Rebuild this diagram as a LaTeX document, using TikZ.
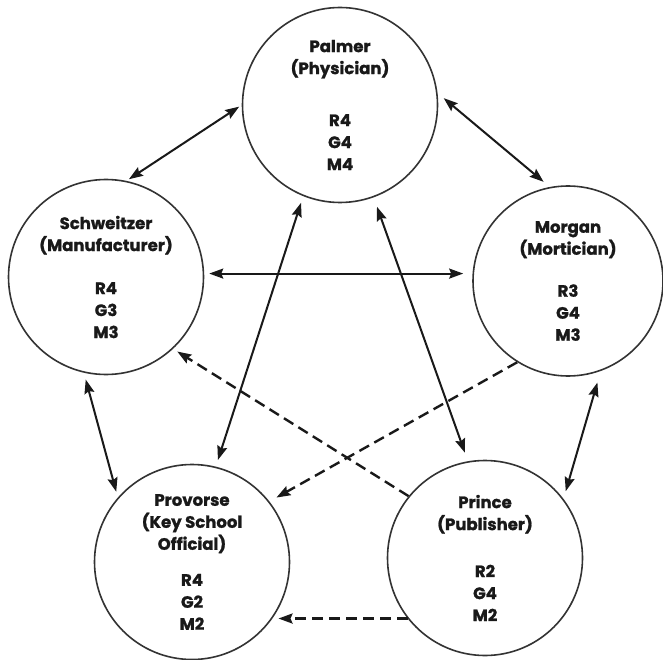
\documentclass[tikz,border=0pt]{standalone}
\usepackage{fontspec}
\setmainfont{Poppins}[BoldFeatures={FakeBold=1.2}]
\usetikzlibrary{arrows.meta}
\begin{document}
\begin{tikzpicture}[x=1pt,y=-1pt,
  person/.style={draw=black!80, circle, line width=1.6pt, minimum size=195pt, inner sep=0pt, align=center,
    font=\fontsize{16.5}{22}\selectfont\bfseries, text=black!90},
  link/.style={line width=2pt, draw=black!90, {Stealth[length=14pt,width=10pt,inset=2pt]}-{Stealth[length=14pt,width=10pt,inset=2pt]}},
  dlink/.style={line width=2.4pt, draw=black!90, dash pattern=on 11pt off 6pt, -{Stealth[length=14pt,width=10pt,inset=2pt]}}
]
\useasboundingbox (0,0) rectangle (663,660);
\fill[white] (0,0) rectangle (663,660);

\node[person] (palmer) at (340,105) {Palmer\\(Physician)\\[30pt]R4\\G4\\M4};
\node[person] (schweitzer) at (106,277) {Schweitzer\\(Manufacturer)\\[21pt]R4\\G3\\M3};
\node[person, minimum size=190pt] (morgan) at (568,281) {Morgan\\(Mortician)\\[20pt]R3\\G4\\M3};
\node[person] (provorse) at (192,562) {Provorse\\(Key School\\Official)\\[14pt]R4\\G2\\M2};
\node[person] (prince) at (485,558) {Prince\\(Publisher)\\[25pt]R2\\G4\\M2};

\draw[link, shorten <=3pt, shorten >=3pt] (schweitzer.78) -- (palmer.180);
\draw[link, shorten <=8pt, shorten >=8pt] (palmer.7) -- (morgan.101);
\draw[link, shorten <=5pt, shorten >=9pt] (schweitzer.2) -- (schweitzer.2 -| morgan.west);
\draw[link, shorten <=7pt, shorten >=7pt] (palmer.248) -- (provorse.76);
\draw[link, shorten <=10pt, shorten >=9pt] (palmer.290) -- (prince.100);
\draw[link, shorten <=7pt, shorten >=6pt] (schweitzer.257) -- (provorse.139);
\draw[link, shorten <=12pt, shorten >=8pt] (morgan.290) -- (prince.37);

\draw[dlink, shorten >=8pt] (morgan.238) -- (provorse.38);
\draw[dlink, shorten >=5pt] (prince.141) -- (schweitzer.313);
\draw[dlink, shorten >=5pt] (prince.218) -- (prince.218 -| provorse.326);
\end{tikzpicture}
\end{document}
